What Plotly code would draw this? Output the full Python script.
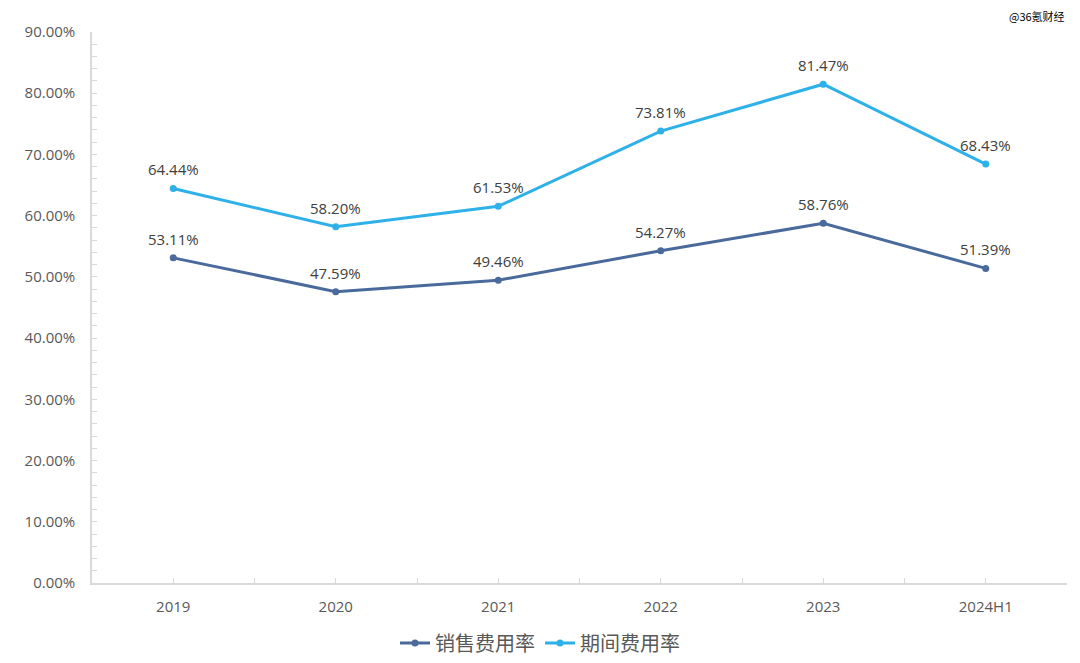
import plotly.graph_objects as go

categories = ["2019", "2020", "2021", "2022", "2023", "2024H1"]
sales_rate = [53.11, 47.59, 49.46, 54.27, 58.76, 51.39]
period_rate = [64.44, 58.20, 61.53, 73.81, 81.47, 68.43]
y_ticks = [0, 10, 20, 30, 40, 50, 60, 70, 80, 90]

series = [
    ("销售费用率", sales_rate, "#4a6a9c"),
    ("期间费用率", period_rate, "#2eb1e8"),
]

xs = list(range(len(categories)))
fig = go.Figure()
for name, vals, color in series:
    fig.add_trace(go.Scatter(
        x=xs, y=vals, name=name, mode="lines+markers",
        line=dict(color=color, width=3),
        marker=dict(color=color, size=7),
    ))
    for x, v in zip(xs, vals):
        fig.add_annotation(x=x, y=v, text=f"{v:.2f}%", showarrow=False,
                           yshift=19, font=dict(size=15, color="#404040",
                                                family="Open Sans, Liberation Sans, sans-serif"))

fig.add_annotation(xref="paper", yref="paper", x=1.0, y=1.0, yshift=6,
                   xanchor="right", yanchor="bottom", showarrow=False,
                   text="@36氪财经",
                   font=dict(size=11, color="#000000", family="Noto Sans CJK SC"))

fig.update_xaxes(
    range=[-0.5, len(categories) - 0.5],
    tickvals=xs, ticktext=categories,
    showline=True, linecolor="#d9d9d9", linewidth=1.5,
    ticks="inside", ticklen=5, tickcolor="#d9d9d9",
    minor=dict(dtick=0.5, tick0=-0.5, ticks="inside", ticklen=5, tickcolor="#d9d9d9"),
    showgrid=False, zeroline=False, automargin=False,
    tickfont=dict(size=15, color="#595959", family="Open Sans, Liberation Sans, sans-serif"),
    ticklabelstandoff=9,
)
fig.update_yaxes(
    range=[0, 90], tickvals=y_ticks, ticktext=[f"{t:.2f}%" for t in y_ticks],
    showline=True, linecolor="#d9d9d9", linewidth=1.5,
    ticks="inside", ticklen=5, tickcolor="#d9d9d9",
    minor=dict(dtick=2, ticks="inside", ticklen=5, tickcolor="#d9d9d9"),
    showgrid=False, zeroline=False, automargin=False,
    tickfont=dict(size=15, color="#595959", family="Open Sans, Liberation Sans, sans-serif"),
    ticklabelstandoff=12,
)
fig.update_layout(
    width=1080, height=663,
    margin=dict(l=92, r=13, t=32, b=80),
    plot_bgcolor="white", paper_bgcolor="white",
    showlegend=True,
    legend=dict(orientation="h", xref="container", x=0.5, xanchor="center",
                yref="container", y=0.03, yanchor="middle",
                font=dict(size=20, color="#595959", family="Noto Sans CJK SC"),
                itemwidth=30),
)
fig.write_html("out.html", post_script="document.body.style.margin='0';",
               config={"displayModeBar": False})
